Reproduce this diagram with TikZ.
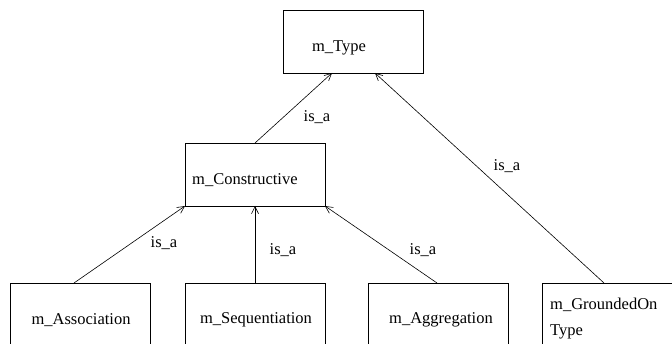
\documentclass[tikz,border=0pt]{standalone}
\usepackage{fontspec}
\setmainfont{Liberation Serif}
\usetikzlibrary{arrows.meta}
\begin{document}
\begin{tikzpicture}[x=1pt,y=-1pt,
  box/.style={draw,line width=0.8pt,minimum width=140pt,inner sep=0pt,outer sep=0pt},
  txt/.style={font=\fontsize{16.5}{20}\selectfont,inner sep=0pt},
  lbl/.style={font=\fontsize{16.5}{20}\selectfont,inner sep=0pt},
  isa/.style={line width=0.6pt,-{Straight Barb[length=7pt,width=7pt,line width=0.6pt]}}]
\clip (0,0) rectangle (672,344);
\fill[white] (0,0) rectangle (672,344);
% boxes
\node[box,minimum height=63pt,anchor=north west] (type) at (283,10) {};
\node[box,minimum height=63pt,anchor=north west] (cons) at (185,143) {};
\node[box,minimum height=80pt,anchor=north west] (assoc) at (10,283) {};
\node[box,minimum height=80pt,anchor=north west] (seq) at (185,283) {};
\node[box,minimum height=80pt,anchor=north west] (aggr) at (368,283) {};
\node[box,minimum height=80pt,anchor=north west] (gro) at (542,283) {};
% texts
\node[txt] (ttype) at (339,48) {m\_Type};
\node[txt,anchor=west] (tcons) at (192,180) {m\_Constructive};
\node[txt] (tassoc) at (81,320) {m\_Association};
\node[txt] (tseq) at (256,320) {m\_Sequentiation};
\node[txt] (taggr) at (441,320) {m\_Aggregation};
\node[txt,anchor=west] (tgro1) at (550,305) {m\_GroundedOn};
\node[txt,anchor=west] (tgro2) at (550,332) {Type};
% connectors
\draw[isa] (cons.north) -- ([xshift=-21pt]type.south);
\draw[isa] ([xshift=-8pt]gro.north) -- ([xshift=22pt]type.south);
\draw[isa] ([xshift=-6pt]assoc.north) -- (cons.south west);
\draw[isa] (seq.north) -- (cons.south);
\draw[isa] ([xshift=-1pt]aggr.north) -- (cons.south east);
% labels
\node[lbl] (l1) at (317,117) {is\_a};
\node[lbl] (l2) at (507,166) {is\_a};
\node[lbl] (l3) at (164,243) {is\_a};
\node[lbl] (l4) at (283,250) {is\_a};
\node[lbl] (l5) at (423,250) {is\_a};
\end{tikzpicture}
\end{document}
